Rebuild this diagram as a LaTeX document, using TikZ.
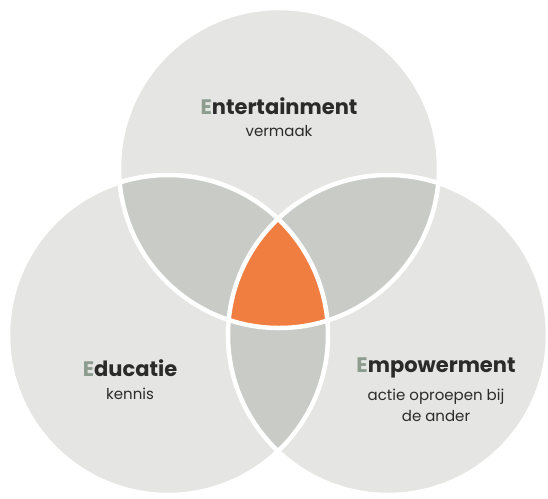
\documentclass[tikz,border=0pt]{standalone}
\usepackage{fontspec}
\setmainfont{Poppins}
\usetikzlibrary{positioning}

\definecolor{circlegray}{HTML}{E5E6E3}
\definecolor{lensgray}{HTML}{C9CCC6}
\definecolor{coreorange}{HTML}{F07E41}
\definecolor{letteraccent}{HTML}{8C9C8E}
\definecolor{textdark}{HTML}{2B2B2B}

\begin{document}
\begin{tikzpicture}[x=1pt, y=-1pt,
    title/.style = {font=\fontsize{21}{24}\selectfont\bfseries, text=textdark, inner sep=0pt},
    subtitle/.style = {font=\fontsize{15}{21}\selectfont, text=textdark, align=center, inner sep=0pt},
    rim/.style = {draw=white, line width=4.5pt}]
    \useasboundingbox (0,0) rectangle (548,498);

    % centres of the three circles
    \coordinate (ent) at (279,168);
    \coordinate (edu) at (168,335);
    \coordinate (emp) at (388,335);

    % circles
    \fill[circlegray] (ent) circle[radius=160pt];
    \fill[circlegray] (edu) circle[radius=160pt];
    \fill[circlegray] (emp) circle[radius=160pt];

    % overlaps of two
    \begin{scope}
        \clip (ent) circle[radius=160pt];
        \fill[lensgray] (edu) circle[radius=160pt];
        \fill[lensgray] (emp) circle[radius=160pt];
    \end{scope}
    \begin{scope}
        \clip (edu) circle[radius=160pt];
        \fill[lensgray] (emp) circle[radius=160pt];
    \end{scope}

    % overlap of all three
    \begin{scope}
        \clip (ent) circle[radius=160pt];
        \clip (edu) circle[radius=160pt];
        \fill[coreorange] (emp) circle[radius=160pt];
    \end{scope}

    \draw[rim] (ent) circle[radius=160pt];
    \draw[rim] (edu) circle[radius=160pt];
    \draw[rim] (emp) circle[radius=160pt];

    % labels
    \node[title] (enttitle) at (279,106) {\textcolor{letteraccent}{E}ntertainment};
    \node[subtitle, below = 11pt of enttitle] (entsub) {vermaak};

    \node[title] (edutitle) at (130,368) {\textcolor{letteraccent}{E}ducatie};
    \node[subtitle, below = 11pt of edutitle] (edusub) {kennis};

    \node[title] (emptitle) at (436,368) {\textcolor{letteraccent}{E}mpowerment};
    \node[subtitle, below = 11pt of emptitle] (empsub) {actie oproepen bij\\de ander};
\end{tikzpicture}
\end{document}
